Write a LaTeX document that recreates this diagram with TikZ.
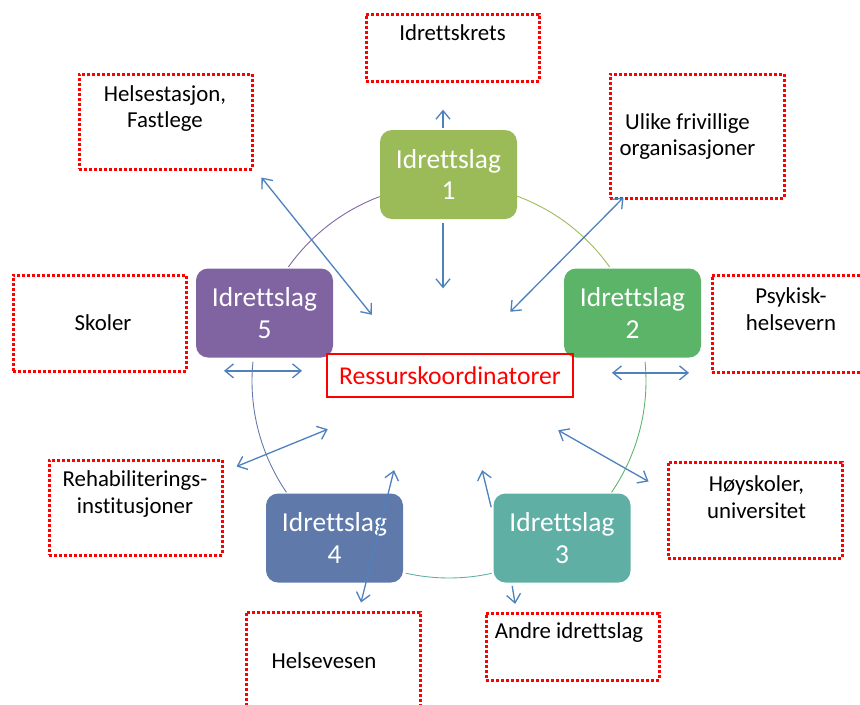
\documentclass[tikz,border=0pt]{standalone}
\usepackage{fontspec}
\setmainfont{Carlito}[Ligatures=NoCommon]
\usepackage{tikz}
\usetikzlibrary{arrows.meta,positioning,calc}
\definecolor{lag1}{RGB}{155,187,89}
\definecolor{lag2}{RGB}{92,180,105}
\definecolor{lag3}{RGB}{95,175,165}
\definecolor{lag4}{RGB}{95,122,170}
\definecolor{lag5}{RGB}{128,100,162}
\definecolor{pilcol}{RGB}{79,129,189}
\definecolor{rod}{RGB}{255,0,0}
\newcommand{\lag}[1]{Idrettslag\\#1}

\begin{document}
\begin{tikzpicture}[
  barb/.tip={Straight Barb[length=1.7mm,width=2.8mm]},
  club/.style={rounded corners=2.4mm, align=center, text=white, inner sep=0pt,
               minimum width=2.74cm, minimum height=1.78cm,
               font=\fontsize{15.6}{17.8}\selectfont},
  partner/.style={draw=rod, line width=0.6mm, dash pattern=on 0.6mm off 0.4mm,
                  minimum width=3.46cm, inner sep=0pt},
  lbl/.style={align=center, inner sep=0pt, font=\fontsize{13}{15.3}\selectfont},
  ring/.style={line width=0.5pt},
  ar/.style={-barb, line width=0.75pt, draw=pilcol},
  dar/.style={ar, barb-barb},
]
  \useasboundingbox (0,0) rectangle (17.2,-14.08);

  \coordinate (ctr) at (8.98,-7.62);
  \draw[ring, lag1] ($(ctr)+(69.7:3.94)$) arc[start angle=69.7, end angle=35.4, radius=3.94];
  \draw[ring, lag2] ($(ctr)+(5.6:3.94)$) arc[start angle=5.6, end angle=-34.4, radius=3.94];
  \draw[ring, lag3] ($(ctr)+(-77.5:3.94)$) arc[start angle=-77.5, end angle=-102.7, radius=3.94];
  \draw[ring, lag4] ($(ctr)+(-145.6:3.94)$) arc[start angle=-145.6, end angle=-185.6, radius=3.94];
  \draw[ring, lag5] ($(ctr)+(144.6:3.94)$) arc[start angle=144.6, end angle=110.6, radius=3.94];

  \node[club, fill=lag1] (b1) at (8.97,-3.49) {\lag{1}};
  \node[club, fill=lag2] (b2) at (12.65,-6.26) {\lag{2}};
  \node[club, fill=lag3] (b3) at (11.24,-10.76) {\lag{3}};
  \node[club, fill=lag4] (b4) at (6.69,-10.76) {\lag{4}};
  \node[club, fill=lag5] (b5) at (5.29,-6.26) {\lag{5}};

  \node[draw=rod, line width=0.5mm, text=rod, minimum width=4.92cm, minimum height=0.86cm,
        font=\fontsize{14.6}{17}\selectfont] (res) at (9.0,-7.51) {Ressurskoordinatorer};

  \node[partner, minimum height=1.34cm] (krets) at (9.05,-0.95) {};
  \node[partner, minimum height=1.90cm] (helse) at (3.31,-2.43) {};
  \node[partner, minimum width=3.48cm, minimum height=2.48cm] (ulike) at (13.94,-2.72) {};
  \node[partner, minimum height=1.92cm] (skoler) at (1.99,-6.46) {};
  \node[partner, minimum height=1.94cm] (psyk) at (15.97,-6.47) {};
  \node[partner, minimum height=1.90cm] (rehab) at (2.71,-10.15) {};
  \node[partner, minimum width=3.48cm, minimum height=1.92cm] (hoy) at (15.10,-10.20) {};
  \node[partner, minimum width=3.48cm, minimum height=1.92cm] (hvesen) at (6.66,-13.20) {};
  \node[partner, minimum height=1.34cm] (andre) at (11.45,-12.93) {};

  \node[lbl] (krets-t) at (9.05,-0.66) {Idrettskrets};
  \node[lbl] (helse-t) at (3.30,-2.17) {Helsestasjon,\\Fastlege};
  \node[lbl] (ulike-t) at (13.75,-2.73) {Ulike frivillige\\organisasjoner};
  \node[lbl] (skoler-t) at (2.06,-6.46) {Skoler};
  \node[lbl] (psyk-t) at (15.82,-6.18) {Psykisk-\\helsevern};
  \node[lbl] (rehab-t) at (2.70,-9.88) {Rehabiliterings-\\institusjoner};
  \node[lbl] (hoy-t) at (15.13,-9.95) {Høyskoler,\\universitet};
  \node[lbl] (hvesen-t) at (6.48,-13.22) {Helsevesen};
  \node[lbl] (andre-t) at (11.38,-12.66) {Andre idrettslag};

  \draw[ar] ($(b1.north)+(-0.11,0.04)$) -- ($(b1.north)+(-0.11,0.40)$);
  \draw[ar] ($(b1.south)+(-0.11,-0.08)$) -- ($(b1.south)+(-0.11,-1.38)$);
  \draw[dar] ($(helse.south east)+(0.16,-0.14)$) -- ($(res.north west)+(0.92,0.76)$);
  \draw[dar] ($(ulike.south west)+(0.30,0.04)$) -- ($(res.north east)+(-1.28,0.82)$);
  \draw[dar] ($(b5.south)+(-0.81,-0.26)$) -- ($(b5.south)+(0.75,-0.26)$);
  \draw[dar] ($(b2.south)+(-0.41,-0.30)$) -- ($(b2.south)+(1.13,-0.30)$);
  \draw[dar] ($(rehab.north east)+(0.26,-0.16)$) -- ($(res.south west)+(0.04,-0.62)$);
  \draw[dar] ($(res.south east)+(-0.32,-0.64)$) -- ($(hoy.north west)+(-0.36,-0.42)$);
  \draw[dar] ($(hvesen.north)+(0.56,0.16)$) -- ($(b4.north)+(1.19,0.46)$);
  \draw[ar] ($(b3.north west)+(-0.04,-0.28)$) -- ($(b3.north west)+(-0.22,0.46)$);
  \draw[ar] ($(b3.south west)+(0.38,-0.06)$) -- ($(b3.south west)+(0.44,-0.42)$);
\end{tikzpicture}
\end{document}
